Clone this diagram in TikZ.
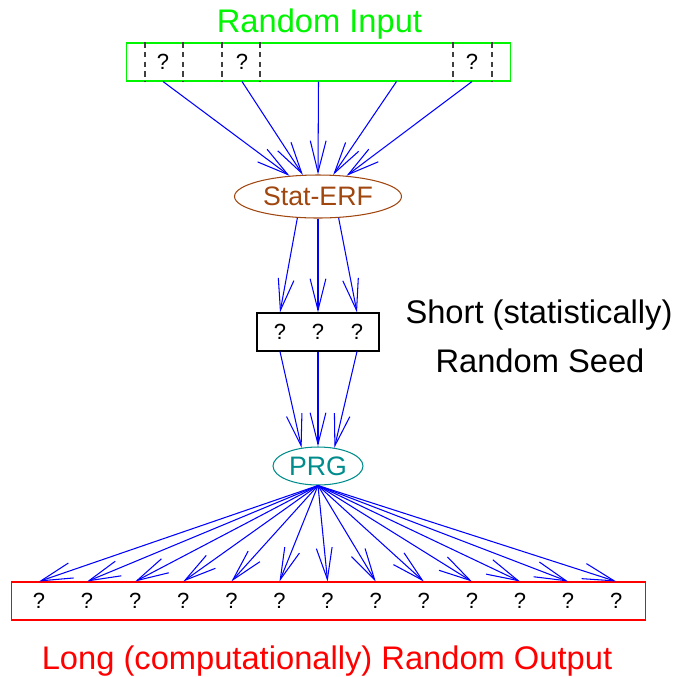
\documentclass[tikz,border=0pt]{standalone}
\usepackage{fontspec}
\setmainfont{Liberation Sans}
\usetikzlibrary{positioning,shapes.geometric,arrows.meta,calc}
\definecolor{ingreen}{RGB}{0,245,0}
\definecolor{erfbrown}{RGB}{160,70,15}
\definecolor{prgteal}{RGB}{0,140,140}

\begin{document}
\begin{tikzpicture}[x=0.02cm,y=-0.02cm,
    every edge/.style={draw,blue,line width=0.6pt,-{Straight Barb[length=18pt,width=9pt]}},
    qmark/.style={font=\fontsize{12.5}{14}\selectfont},
    big/.style={font=\fontsize{18.6}{22}\selectfont,anchor=base}]
  \useasboundingbox (0,0) rectangle (673,677);
  % input string
  \node (intitle) [big,text=ingreen] at (319.5,32) {Random Input};
  \node (in) [draw=ingreen,line width=0.6pt,inner sep=0,minimum width=7.7cm,
    minimum height=0.76cm] at (318.5,62) {};
  \foreach \x in {145,183,222,260,453,492}
    \draw [black!75,line width=0.6pt,dash pattern=on 3pt off 2.5pt]
      (in.north -| \x,0) -- (in.south -| \x,0);
  \begin{scope}[every node/.style={qmark}]
    \node (q1) at (163,62) {?};
    \node (q2) at (242,62) {?};
    \node (q3) at (472,62) {?};
  \end{scope}
  % extractor
  \node (erf) [ellipse,draw=erfbrown,line width=0.6pt,inner sep=0,
    minimum width=3.34cm,minimum height=0.86cm,text=erfbrown,
    font=\fontsize{15.2}{17}\selectfont] at (318,196.5) {Stat-ERF};
  \path (q1 |- in.south) edge node {} (erf.144);
  \path (q2 |- in.south) edge node {} (erf.125);
  \path (in.south) edge node {} (erf.north);
  \path ($(in.south)+(78,0)$) edge node {} (erf.55);
  \path (q3 |- in.south) edge node {} (erf.36);
  % seed
  \node (seed) [draw,line width=0.6pt,inner sep=0,minimum width=2.44cm,
    minimum height=0.76cm] at (318,332) {};
  \begin{scope}[every node/.style={qmark}]
    \node (s1) at (280,332) {?};
    \node (s2) at (318,332) {?};
    \node (s3) at (357,332) {?};
  \end{scope}
  \node (short) [big] at (539,323) {Short (statistically)};
  \node (seedtxt) [big] at (540,372) {Random Seed};
  \path (erf.226) edge node {} (s1 |- seed.north);
  \path (erf.south) edge node {} (s2 |- seed.north);
  \path (erf.314) edge node {} (s3 |- seed.north);
  % generator
  \node (prg) [ellipse,draw=prgteal,line width=0.6pt,inner sep=0,
    minimum width=1.8cm,minimum height=0.76cm,text=prgteal,
    font=\fontsize{15.2}{17}\selectfont] at (318,466) {PRG};
  \path (s1 |- seed.south) edge node {} (prg.132);
  \path (s2 |- seed.south) edge node {} (prg.north);
  \path (s3 |- seed.south) edge node {} (prg.48);
  % output string
  \node (out) [draw=red,line width=0.6pt,inner sep=0,minimum width=12.7cm,
    minimum height=0.76cm] at (328.5,601) {};
  \begin{scope}[every node/.style={qmark}]
    \node (o1) at (39,601) {?};
    \node (o2) at (87.1,601) {?};
    \node (o3) at (135.2,601) {?};
    \node (o4) at (183.3,601) {?};
    \node (o5) at (231.4,601) {?};
    \node (o6) at (279.5,601) {?};
    \node (o7) at (327.6,601) {?};
    \node (o8) at (375.7,601) {?};
    \node (o9) at (423.8,601) {?};
    \node (o10) at (471.9,601) {?};
    \node (o11) at (520,601) {?};
    \node (o12) at (568.1,601) {?};
    \node (o13) at (616.2,601) {?};
  \end{scope}
  \path (prg.south) edge node {} (o1 |- out.north);
  \path (prg.south) edge node {} (o2 |- out.north);
  \path (prg.south) edge node {} (o3 |- out.north);
  \path (prg.south) edge node {} (o4 |- out.north);
  \path (prg.south) edge node {} (o5 |- out.north);
  \path (prg.south) edge node {} (o6 |- out.north);
  \path (prg.south) edge node {} (o7 |- out.north);
  \path (prg.south) edge node {} (o8 |- out.north);
  \path (prg.south) edge node {} (o9 |- out.north);
  \path (prg.south) edge node {} (o10 |- out.north);
  \path (prg.south) edge node {} (o11 |- out.north);
  \path (prg.south) edge node {} (o12 |- out.north);
  \path (prg.south) edge node {} (o13 |- out.north);
  \node (outtitle) [big,text=red] at (327,669) {Long (computationally) Random Output};
\end{tikzpicture}
\end{document}
